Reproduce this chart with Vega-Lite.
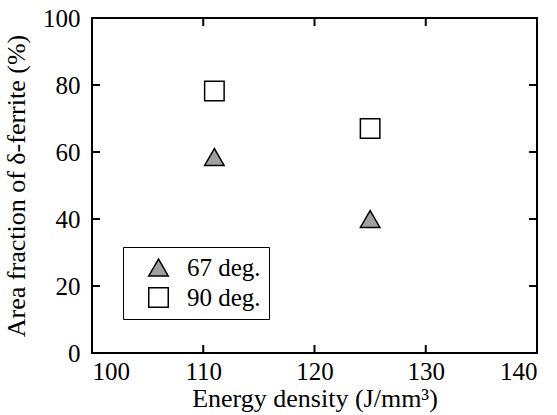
{
  "$schema": "https://vega.github.io/schema/vega-lite/v6.json",
  "width": 445,
  "height": 335,
  "autosize": {"type": "none"},
  "padding": {"left": 92, "top": 18, "right": 20, "bottom": 62},
  "background": "white",
  "datasets": {
    "points": [
      {"energy": 111, "fraction": 58.5, "series": "67 deg."},
      {"energy": 125, "fraction": 40, "series": "67 deg."},
      {"energy": 111, "fraction": 78.2, "series": "90 deg."},
      {"energy": 125, "fraction": 67, "series": "90 deg."}
    ],
    "xticks": [{"t": 110}, {"t": 120}, {"t": 130}],
    "yticks": [{"t": 20}, {"t": 40}, {"t": 60}, {"t": 80}]
  },
  "config": {
    "font": "Liberation Serif",
    "view": {"stroke": "black", "strokeWidth": 2},
    "axis": {
      "grid": false, "labelFont": "Liberation Serif", "labelFontSize": 25,
      "labelColor": "black", "titleFont": "Liberation Serif", "titleFontSize": 26,
      "titleFontWeight": "normal", "titleColor": "black"
    }
  },
  "layer": [
    {
      "data": {"name": "points"},
      "mark": {"type": "point", "filled": true, "size": 380, "stroke": "black", "strokeWidth": 1.5, "opacity": 1},
      "encoding": {
        "x": {"field": "energy", "type": "quantitative", "scale": {"domain": [100, 140], "nice": false, "zero": false},
              "axis": {"orient": "bottom", "values": [100, 110, 120, 130, 140], "domain": false, "ticks": false,
                       "title": "Energy density (J/mm³)", "labelPadding": 6, "titlePadding": 1}},
        "y": {"field": "fraction", "type": "quantitative", "scale": {"domain": [0, 100], "nice": false},
              "axis": {"orient": "left", "values": [0, 20, 40, 60, 80, 100], "domain": false, "ticks": false,
                       "title": "Area fraction of δ-ferrite (%)", "labelPadding": 12, "titlePadding": 13}},
        "shape": {"field": "series", "type": "nominal", "scale": {"domain": ["67 deg.", "90 deg."], "range": ["triangle-up", "square"]},
                  "legend": {"title": null, "orient": "none", "legendX": 31, "legendY": 229, "strokeColor": "black", "padding": 8, "symbolOffset": 15,
                             "labelFontSize": 25, "labelFont": "Liberation Serif", "labelColor": "black", "symbolSize": 380, "labelOffset": 16, "rowPadding": 3, "fillColor": "white",
                             "encode": {"legend": {"update": {"strokeWidth": {"value": 1.5}}}, "symbols": {"update": {"stroke": {"value": "black"}, "strokeWidth": {"value": 1.5}}}}}},
        "fill": {"field": "series", "type": "nominal", "scale": {"domain": ["67 deg.", "90 deg."], "range": ["#a0a0a0", "white"]}, "legend": null}
      }
    },
    {
      "data": {"name": "xticks"},
      "mark": {"type": "rule", "color": "black", "strokeWidth": 2},
      "encoding": {
        "x": {"field": "t", "type": "quantitative"},
        "y": {"datum": 0, "type": "quantitative"},
        "y2": {"datum": 2.4}
      }
    },
    {
      "data": {"name": "xticks"},
      "mark": {"type": "rule", "color": "black", "strokeWidth": 2},
      "encoding": {
        "x": {"field": "t", "type": "quantitative"},
        "y": {"datum": 100, "type": "quantitative"},
        "y2": {"datum": 97.6}
      }
    },
    {
      "data": {"name": "yticks"},
      "mark": {"type": "rule", "color": "black", "strokeWidth": 2},
      "encoding": {
        "y": {"field": "t", "type": "quantitative"},
        "x": {"datum": 100, "type": "quantitative"},
        "x2": {"datum": 100.72}
      }
    },
    {
      "data": {"name": "yticks"},
      "mark": {"type": "rule", "color": "black", "strokeWidth": 2},
      "encoding": {
        "y": {"field": "t", "type": "quantitative"},
        "x": {"datum": 140, "type": "quantitative"},
        "x2": {"datum": 139.28}
      }
    }
  ]
}
